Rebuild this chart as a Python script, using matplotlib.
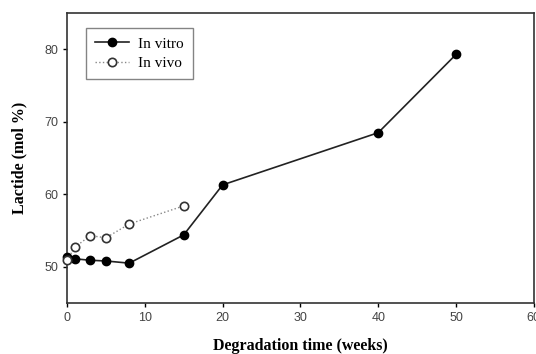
import matplotlib
matplotlib.use("Agg")
import matplotlib.pyplot as plt

vitro_x = [0, 1, 3, 5, 8, 15, 20, 40, 50]
vitro_y = [51.4, 51.1, 50.9, 50.8, 50.5, 54.4, 61.3, 68.5, 79.3]
vivo_x = [0, 1, 3, 5, 8, 15]
vivo_y = [50.9, 52.7, 54.3, 54.0, 55.9, 58.4]
xticks = [0, 10, 20, 30, 40, 50, 60]
yticks = [50, 60, 70, 80]

fig = plt.figure(figsize=(5.36, 3.54), dpi=100)
ax = fig.add_axes([0.125, 0.144, 0.871, 0.819])

ax.plot(vitro_x, vitro_y, '-', color='#222222', lw=1.2, marker='o', ms=6,
        mfc='black', mec='black', label='In vitro', zorder=3, clip_on=False)
ax.plot(vivo_x, vivo_y, ':', color='#888888', lw=1.0, marker='o', ms=6,
        mfc='white', mec='#333333', mew=1.2, label='In vivo', zorder=4,
        clip_on=False)

ax.set_xlim(0, 60)
ax.set_ylim(45, 85)
ax.set_xticks(xticks)
ax.set_yticks(yticks)
ax.tick_params(direction='out', length=3, width=1, labelsize=9,
               labelcolor='#444444', top=False, right=False)
for lab in ax.get_xticklabels() + ax.get_yticklabels():
    lab.set_family('Liberation Sans')
for s in ax.spines.values():
    s.set_linewidth(1.2)
    s.set_color('#333333')

serif = 'Liberation Serif'
ax.set_xlabel('Degradation time (weeks)', family=serif, fontweight='bold',
              fontsize=11.5, labelpad=10)
ax.set_ylabel('Lactide (mol %)', family=serif, fontweight='bold',
              fontsize=11.5, labelpad=12)

leg = ax.legend(loc='upper left', prop={'family': serif, 'size': 11},
                frameon=True, fancybox=False, edgecolor='#666666',
                borderpad=0.6, handlelength=2.2, handletextpad=0.6,
                labelspacing=0.35, bbox_to_anchor=(0.025, 0.975))
leg.get_frame().set_linewidth(1.0)

fig.savefig('out.png', dpi=100)
